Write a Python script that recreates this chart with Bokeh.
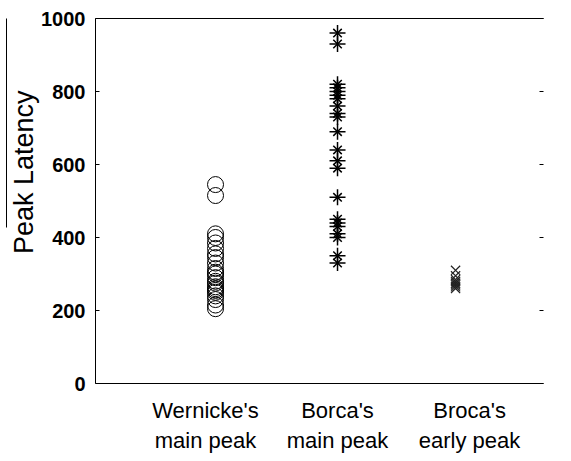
from bokeh.plotting import figure
from bokeh.models import Range1d, LinearAxis, FixedTicker, Title
from bokeh.embed import file_html
from bokeh.resources import INLINE

# ---- data ----
categories = ["Wernicke's\nmain peak", "Borca's\nmain peak", "Broca's\nearly peak"]
cat_ticks = [1, 2, 3]
wernicke_x = 1.076
broca_main_x = 2.0
broca_early_x = 2.894
wernicke = [545, 515, 410, 400, 385, 370, 355, 345, 330, 315, 305, 300, 290,
            280, 275, 265, 260, 255, 250, 240, 230, 215, 205]
broca_main = [960, 930, 820, 810, 800, 790, 780, 760, 740, 730, 690, 640, 610,
              590, 510, 450, 440, 430, 410, 400, 350, 330]
broca_early = [310, 295, 285, 280, 275, 270, 265, 260]
y_ticks = [0, 200, 400, 600, 800, 1000]
y_label = "Peak Latency"
stray_line_bounds = (427, 1022)

FONT = "Liberation Sans"

p = figure(frame_width=448, frame_height=365,
           min_border_left=95, min_border_right=20, min_border_top=18, min_border_bottom=70,
           x_range=Range1d(0.167, 3.56), y_range=Range1d(0, 1000),
           output_backend="svg", toolbar_location=None)
p.width = 563
p.height = 453
p.grid.visible = False
p.outline_line_color = None
p.background_fill_color = "white"
p.border_fill_color = "white"

# x axis
xa = p.xaxis[0]
xa.ticker = FixedTicker(ticks=cat_ticks)
xa.major_label_overrides = {t: c for t, c in zip(cat_ticks, categories)}
xa.major_tick_in = 0
xa.major_tick_out = 0
xa.minor_tick_in = 0
xa.minor_tick_out = 0
xa.major_label_text_font = FONT
xa.major_label_text_font_size = "22px"
xa.major_label_text_color = "black"
xa.major_label_standoff = 14
xa.axis_line_color = "black"

# y axis
ya = p.yaxis[0]
ya.ticker = FixedTicker(ticks=y_ticks)
ya.major_tick_in = 4
ya.major_tick_out = 0
ya.minor_tick_in = 0
ya.minor_tick_out = 0
ya.major_label_text_font = FONT
ya.major_label_text_font_style = "bold"
ya.major_label_text_font_size = "20px"
ya.major_label_text_color = "black"
ya.major_label_standoff = 10
ya.axis_line_color = "black"

# y label as a left title, positioned along the axis
p.add_layout(Title(text=y_label, align="right", offset=72,
                   text_font=FONT, text_font_size="27px", text_font_style="normal",
                   text_color="black", standoff=0), "left")

# stray vertical line left of the label (bare axis line)
sa = LinearAxis(ticker=FixedTicker(ticks=[]), axis_line_color="black",
                bounds=stray_line_bounds,
                major_tick_in=0, major_tick_out=0, minor_tick_in=0, minor_tick_out=0,
                major_label_standoff=0)
p.add_layout(sa, "left")

# right ticks (no line, no labels)
ra = LinearAxis(ticker=FixedTicker(ticks=y_ticks), axis_line_color=None,
                major_tick_in=4, major_tick_out=0, minor_tick_in=0, minor_tick_out=0,
                major_label_overrides={t: "" for t in y_ticks}, major_label_standoff=0)
p.add_layout(ra, "right")

# top line
ta = LinearAxis(ticker=FixedTicker(ticks=[]), axis_line_color="black",
                major_tick_in=0, major_tick_out=0, minor_tick_in=0, minor_tick_out=0,
                major_label_standoff=0)
p.add_layout(ta, "above")

# markers
p.scatter([wernicke_x] * len(wernicke), wernicke, marker="circle", size=16,
          fill_color=None, line_color="black", line_width=1)
bx = [broca_main_x] * len(broca_main)
p.scatter(bx, broca_main, marker="cross", size=16, line_color="black", line_width=1.5)
p.scatter(bx, broca_main, marker="x", size=12, line_color="black", line_width=1.5)
p.scatter([broca_early_x] * len(broca_early), broca_early, marker="x", size=13,
          line_color="#222222", line_width=1.2)

open("out.html", "w").write(file_html(p, INLINE))
